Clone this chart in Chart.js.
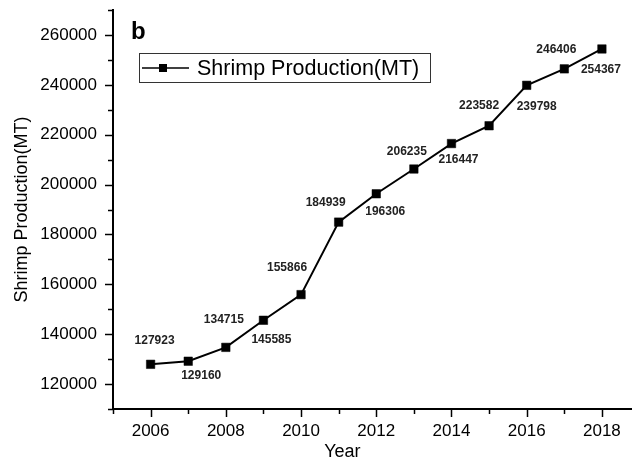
<!DOCTYPE html>
<html>
<head>
<meta charset="utf-8">
<script src="https://cdn.jsdelivr.net/npm/chart.js@4/dist/chart.umd.min.js"></script>
<style>
  html, body { margin: 0; padding: 0; background: #fff; overflow: hidden; }
  #wrap { width: 632px; height: 459px; }
</style>
</head>
<body>
<div id="wrap"><canvas id="c" width="632" height="459"></canvas></div>
<script>
// Annual shrimp production, metric tonnes
const years = [2006, 2007, 2008, 2009, 2010, 2011, 2012, 2013, 2014, 2015, 2016, 2017, 2018];
const production = [127923, 129160, 134715, 145585, 155866, 184939, 196306, 206235, 216447, 223582, 239798, 246406, 254367];
const xTickValues = [2006, 2008, 2010, 2012, 2014, 2016, 2018];
const yTickValues = [120000, 140000, 160000, 180000, 200000, 220000, 240000, 260000];
const seriesName = 'Shrimp Production(MT)';
const xTitle = 'Year';
const yTitle = 'Shrimp Production(MT)';
const panelLetter = 'b';

const FONT = '"Liberation Sans", Arial, sans-serif';

// Where each value label sits relative to its marker (px)
const labelShift = [
  [4, -24], [13, 14], [-2, -28], [8, 19], [-14, -27], [-13, -19], [9, 18],
  [-7, -17], [7, 16], [-10, -20], [10, 21], [-8, -19], [-1, 21]
];

const decorations = {
  id: 'decorations',
  afterDraw(chart) {
    const ctx = chart.ctx;
    const xs = chart.scales.x, ys = chart.scales.y;
    const area = chart.chartArea;
    ctx.save();
    ctx.strokeStyle = '#000';
    ctx.lineWidth = 1.5;

    // outward tick marks: long on labelled values, short in between
    for (let v = ys.min; v <= ys.max; v += 10000) {
      const major = yTickValues.includes(v);
      const py = Math.round(ys.getPixelForValue(v)) + 0.5;
      ctx.beginPath();
      ctx.moveTo(area.left - (major ? 8 : 5), py);
      ctx.lineTo(area.left, py);
      ctx.stroke();
    }
    for (let v = Math.ceil(xs.min); v <= xs.max; v += 1) {
      const major = xTickValues.includes(v);
      const px = Math.round(xs.getPixelForValue(v)) + 0.5;
      ctx.beginPath();
      ctx.moveTo(px, area.bottom);
      ctx.lineTo(px, area.bottom + (major ? 8 : 5));
      ctx.stroke();
    }

    // value labels
    const meta = chart.getDatasetMeta(0);
    ctx.fillStyle = '#222';
    ctx.font = 'bold 12px ' + FONT;
    ctx.textAlign = 'center';
    ctx.textBaseline = 'middle';
    meta.data.forEach((pt, i) => {
      const [dx, dy] = labelShift[i];
      ctx.fillText(String(production[i]), pt.x + dx, pt.y + dy);
    });

    // legend box
    const bx = 139, by = 53, bw = 291, bh = 29;
    ctx.lineWidth = 1;
    ctx.strokeStyle = '#333';
    ctx.strokeRect(bx + 0.5, by + 0.5, bw, bh);
    const ly = by + bh / 2 + 0.5;
    ctx.strokeStyle = '#000';
    ctx.lineWidth = 1.5;
    ctx.beginPath();
    ctx.moveTo(bx + 3, ly);
    ctx.lineTo(bx + 50, ly);
    ctx.stroke();
    ctx.fillStyle = '#000';
    ctx.fillRect(bx + 20, ly - 4, 8, 8);
    ctx.font = '21.5px ' + FONT;
    ctx.textAlign = 'left';
    ctx.fillText(seriesName, bx + 58, ly + 1);

    // panel letter
    ctx.font = 'bold 24px ' + FONT;
    ctx.textAlign = 'left';
    ctx.fillText(panelLetter, 131, 32);

    // x-axis title
    ctx.font = '18px ' + FONT;
    ctx.textAlign = 'center';
    ctx.fillText(xTitle, xs.getPixelForValue(2011.1), 452);
    ctx.restore();
  }
};

new Chart(document.getElementById('c'), {
  type: 'line',
  data: {
    datasets: [{
      label: seriesName,
      data: years.map((x, i) => ({ x, y: production[i] })),
      borderColor: '#000',
      borderWidth: 2,
      pointStyle: 'rect',
      pointRadius: 6,
      pointBorderWidth: 0.5,
      pointBackgroundColor: '#000',
      pointBorderColor: '#000',
      tension: 0,
      clip: false
    }]
  },
  options: {
    responsive: false,
    devicePixelRatio: 1,
    animation: false,
    layout: { autoPadding: false, padding: { top: 10, right: 0, bottom: 0, left: 0 } },
    plugins: { legend: { display: false }, tooltip: { enabled: false } },
    scales: {
      x: {
        type: 'linear',
        min: 2005,
        max: 2018.8,
        grid: { display: false, drawTicks: false },
        border: { display: true, color: '#000', width: 2 },
        afterBuildTicks: s => { s.ticks = xTickValues.map(v => ({ value: v })); },
        afterFit: s => { s.height = 50; s.paddingLeft = 0; s.paddingRight = 0; },
        ticks: {
          autoSkip: false, maxRotation: 0, padding: 12,
          color: '#000', font: { family: FONT, size: 17 },
          callback: v => String(v)
        }
      },
      y: {
        type: 'linear',
        min: 110000,
        max: 270000,
        grid: { display: false, drawTicks: false },
        border: { display: true, color: '#000', width: 2 },
        afterBuildTicks: s => { s.ticks = yTickValues.map(v => ({ value: v })); },
        afterFit: s => { s.width = 113; s.paddingTop = 0; s.paddingBottom = 0; },
        ticks: {
          padding: 16, color: '#000', font: { family: FONT, size: 17 },
          callback: v => String(v)
        },
        title: {
          display: true, text: yTitle, color: '#000',
          font: { family: FONT, size: 18 }, padding: { top: 11, bottom: 0 }
        }
      }
    }
  },
  plugins: [decorations]
});
</script>
</body>
</html>
